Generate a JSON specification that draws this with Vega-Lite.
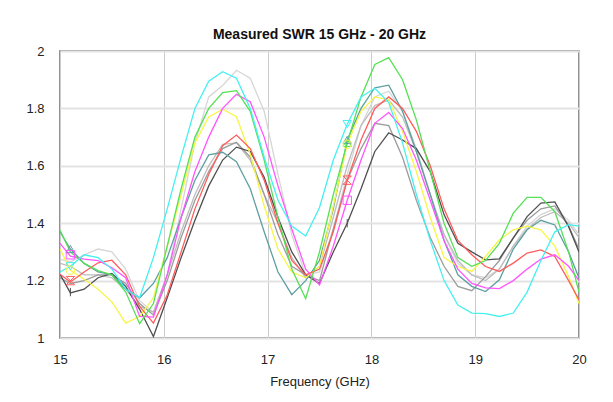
{
  "$schema": "https://vega.github.io/schema/vega-lite/v6.json",
  "width": 519,
  "height": 287,
  "autosize": {"type": "none"},
  "padding": {"left": 60, "top": 51, "right": 34, "bottom": 64},
  "background": "white",
  "title": {"text": "Measured SWR 15 GHz - 20 GHz", "anchor": "middle", "fontSize": 14, "font": "Liberation Sans", "fontWeight": "bold", "color": "#111111", "offset": 3},
  "config": {
    "view": {"stroke": "#6e6e6e", "strokeWidth": 1.5},
    "axis": {"labelFont": "Liberation Sans", "titleFont": "Liberation Sans", "labelColor": "#222222", "titleColor": "#222222", "labelFontSize": 13, "titleFontSize": 13, "titleFontWeight": "normal", "domain": false, "ticks": false}
  },
  "datasets": {
    "swr": [
      {"x":15,"c":1.23,"lg":1.275,"g":1.375,"m":1.33,"y":1.31,"r":1.222,"ga":1.21,"gb":1.26,"k":1.222,"t":1.37},
      {"x":15.1,"c":1.25,"lg":1.265,"g":1.30,"m":1.285,"y":1.236,"r":1.195,"ga":1.19,"gb":1.25,"k":1.157,"t":1.31},
      {"x":15.233,"c":1.29,"lg":1.29,"g":1.26,"m":1.275,"y":1.205,"r":1.23,"ga":1.20,"gb":1.22,"k":1.17,"t":1.26},
      {"x":15.367,"c":1.28,"lg":1.31,"g":1.235,"m":1.27,"y":1.17,"r":1.262,"ga":1.22,"gb":1.22,"k":1.21,"t":1.23},
      {"x":15.5,"c":1.24,"lg":1.30,"g":1.22,"m":1.245,"y":1.126,"r":1.271,"ga":1.22,"gb":1.21,"k":1.225,"t":1.22},
      {"x":15.633,"c":1.17,"lg":1.24,"g":1.16,"m":1.21,"y":1.052,"r":1.22,"ga":1.19,"gb":1.17,"k":1.18,"t":1.17},
      {"x":15.767,"c":1.14,"lg":1.13,"g":1.05,"m":1.075,"y":1.075,"r":1.11,"ga":1.12,"gb":1.11,"k":1.10,"t":1.14},
      {"x":15.9,"c":1.28,"lg":1.09,"g":1.12,"m":1.073,"y":1.14,"r":1.052,"ga":1.08,"gb":1.09,"k":1.005,"t":1.19},
      {"x":16.033,"c":1.45,"lg":1.22,"g":1.32,"m":1.22,"y":1.32,"r":1.15,"ga":1.20,"gb":1.22,"k":1.14,"t":1.28},
      {"x":16.167,"c":1.63,"lg":1.45,"g":1.52,"m":1.42,"y":1.50,"r":1.30,"ga":1.35,"gb":1.37,"k":1.28,"t":1.42},
      {"x":16.3,"c":1.80,"lg":1.68,"g":1.70,"m":1.58,"y":1.68,"r":1.45,"ga":1.48,"gb":1.50,"k":1.41,"t":1.55},
      {"x":16.433,"c":1.895,"lg":1.84,"g":1.80,"m":1.70,"y":1.77,"r":1.57,"ga":1.58,"gb":1.60,"k":1.53,"t":1.638},
      {"x":16.567,"c":1.928,"lg":1.88,"g":1.855,"m":1.80,"y":1.797,"r":1.67,"ga":1.66,"gb":1.675,"k":1.62,"t":1.647},
      {"x":16.7,"c":1.905,"lg":1.933,"g":1.862,"m":1.849,"y":1.771,"r":1.707,"ga":1.682,"gb":1.68,"k":1.665,"t":1.614},
      {"x":16.833,"c":1.80,"lg":1.905,"g":1.79,"m":1.823,"y":1.64,"r":1.66,"ga":1.63,"gb":1.62,"k":1.65,"t":1.52},
      {"x":16.967,"c":1.63,"lg":1.79,"g":1.62,"m":1.70,"y":1.46,"r":1.55,"ga":1.50,"gb":1.50,"k":1.56,"t":1.37},
      {"x":17.1,"c":1.48,"lg":1.57,"g":1.42,"m":1.53,"y":1.31,"r":1.40,"ga":1.36,"gb":1.40,"k":1.42,"t":1.23},
      {"x":17.233,"c":1.39,"lg":1.36,"g":1.24,"m":1.38,"y":1.23,"r":1.27,"ga":1.25,"gb":1.28,"k":1.30,"t":1.151},
      {"x":17.367,"c":1.355,"lg":1.22,"g":1.137,"m":1.24,"y":1.21,"r":1.22,"ga":1.22,"gb":1.21,"k":1.22,"t":1.20},
      {"x":17.5,"c":1.455,"lg":1.23,"g":1.30,"m":1.185,"y":1.25,"r":1.24,"ga":1.20,"gb":1.25,"k":1.19,"t":1.27},
      {"x":17.633,"c":1.62,"lg":1.38,"g":1.50,"m":1.32,"y":1.46,"r":1.37,"ga":1.38,"gb":1.42,"k":1.30,"t":1.45},
      {"x":17.767,"c":1.745,"lg":1.57,"g":1.68,"m":1.48,"y":1.675,"r":1.55,"ga":1.55,"gb":1.60,"k":1.40,"t":1.69},
      {"x":17.9,"c":1.84,"lg":1.74,"g":1.84,"m":1.62,"y":1.79,"r":1.69,"ga":1.66,"gb":1.74,"k":1.52,"t":1.80},
      {"x":18.033,"c":1.87,"lg":1.84,"g":1.953,"m":1.748,"y":1.84,"r":1.80,"ga":1.748,"gb":1.81,"k":1.65,"t":1.872},
      {"x":18.167,"c":1.82,"lg":1.86,"g":1.977,"m":1.786,"y":1.83,"r":1.84,"ga":1.74,"gb":1.83,"k":1.715,"t":1.881},
      {"x":18.3,"c":1.68,"lg":1.79,"g":1.90,"m":1.73,"y":1.72,"r":1.80,"ga":1.63,"gb":1.77,"k":1.69,"t":1.79},
      {"x":18.433,"c":1.50,"lg":1.66,"g":1.76,"m":1.62,"y":1.58,"r":1.72,"ga":1.48,"gb":1.65,"k":1.66,"t":1.65},
      {"x":18.567,"c":1.34,"lg":1.50,"g":1.58,"m":1.48,"y":1.42,"r":1.60,"ga":1.35,"gb":1.50,"k":1.58,"t":1.50},
      {"x":18.7,"c":1.20,"lg":1.36,"g":1.40,"m":1.34,"y":1.28,"r":1.45,"ga":1.25,"gb":1.36,"k":1.43,"t":1.34},
      {"x":18.833,"c":1.115,"lg":1.26,"g":1.28,"m":1.24,"y":1.249,"r":1.34,"ga":1.18,"gb":1.27,"k":1.33,"t":1.22},
      {"x":18.967,"c":1.087,"lg":1.22,"g":1.25,"m":1.19,"y":1.232,"r":1.29,"ga":1.165,"gb":1.22,"k":1.30,"t":1.18},
      {"x":19.1,"c":1.085,"lg":1.21,"g":1.27,"m":1.175,"y":1.284,"r":1.249,"ga":1.214,"gb":1.20,"k":1.272,"t":1.162},
      {"x":19.233,"c":1.075,"lg":1.24,"g":1.33,"m":1.172,"y":1.342,"r":1.232,"ga":1.27,"gb":1.24,"k":1.276,"t":1.203},
      {"x":19.367,"c":1.087,"lg":1.32,"g":1.435,"m":1.20,"y":1.377,"r":1.261,"ga":1.35,"gb":1.32,"k":1.348,"t":1.31},
      {"x":19.5,"c":1.16,"lg":1.39,"g":1.49,"m":1.24,"y":1.39,"r":1.296,"ga":1.41,"gb":1.38,"k":1.423,"t":1.377},
      {"x":19.633,"c":1.27,"lg":1.43,"g":1.49,"m":1.275,"y":1.377,"r":1.307,"ga":1.45,"gb":1.42,"k":1.47,"t":1.41},
      {"x":19.767,"c":1.37,"lg":1.45,"g":1.44,"m":1.29,"y":1.32,"r":1.284,"ga":1.46,"gb":1.44,"k":1.474,"t":1.394},
      {"x":19.9,"c":1.395,"lg":1.41,"g":1.30,"m":1.25,"y":1.214,"r":1.20,"ga":1.39,"gb":1.40,"k":1.388,"t":1.30},
      {"x":20,"c":1.39,"lg":1.36,"g":1.16,"m":1.20,"y":1.12,"r":1.133,"ga":1.31,"gb":1.35,"k":1.30,"t":1.209}
    ],
    "marks": [
      {"x":15.1,"v":1.31,"series":"t"},
      {"x":15.1,"v":1.29,"series":"m"},
      {"x":15.1,"v":1.25,"series":"c"},
      {"x":15.1,"v":1.236,"series":"y"},
      {"x":15.1,"v":1.2,"series":"r"},
      {"x":15.1,"v":1.16,"series":"k"},
      {"x":17.767,"v":1.745,"series":"c"},
      {"x":17.767,"v":1.69,"series":"t"},
      {"x":17.767,"v":1.68,"series":"g"},
      {"x":17.767,"v":1.675,"series":"y"},
      {"x":17.767,"v":1.55,"series":"r"},
      {"x":17.767,"v":1.48,"series":"m"},
      {"x":17.767,"v":1.40,"series":"k"}
    ]
  },
  "layer": [
    {
      "data": {"name": "swr"},
      "transform": [{"fold": ["lg", "gb", "ga", "k", "t", "y", "r", "m", "g", "c"], "as": ["series", "v"]}],
      "mark": {"type": "line", "strokeWidth": 1.3, "clip": true},
      "encoding": {
        "x": {"field": "x", "type": "quantitative", "scale": {"domain": [15, 20], "nice": false, "zero": false},
              "axis": {"values": [15, 16, 17, 18, 19, 20], "format": "~g", "grid": true, "gridColor": "#cccccc", "gridWidth": 1, "labelPadding": 15, "labelFlush": false, "title": "Frequency (GHz)", "titlePadding": 9}},
        "y": {"field": "v", "type": "quantitative", "scale": {"domain": [1, 2], "nice": false, "zero": false},
              "axis": {"values": [1, 1.2, 1.4, 1.6, 1.8, 2], "format": "~g", "grid": true, "gridColor": "#e3e3e3", "gridWidth": 2, "labelPadding": 16, "title": null}},
        "color": {"field": "series", "type": "nominal", "legend": null,
                  "scale": {"domain": ["lg", "gb", "ga", "k", "t", "y", "r", "m", "g", "c"],
                            "range": ["#d6d6d6", "#bdbdbd", "#9c9c9c", "#4f4f4f", "#5e9fa0", "#f7f545", "#ff5c5c", "#ff55ff", "#55e055", "#45f0f0"]}}
      }
    },
    {
      "data": {"name": "marks"},
      "mark": {"type": "point", "filled": false, "size": 70, "strokeWidth": 1, "opacity": 1},
      "encoding": {
        "x": {"field": "x", "type": "quantitative"},
        "y": {"field": "v", "type": "quantitative"},
        "color": {"field": "series", "type": "nominal", "legend": null},
        "shape": {"field": "series", "type": "nominal", "legend": null,
                  "scale": {"domain": ["t", "g", "m", "c", "y", "r", "k"],
                            "range": ["triangle-up", "triangle-up", "square", "triangle-down", "circle", "M-1,-1L1,-1L-1,1L1,1Z", "M0,-1L0,1"]}}
      }
    }
  ]
}
